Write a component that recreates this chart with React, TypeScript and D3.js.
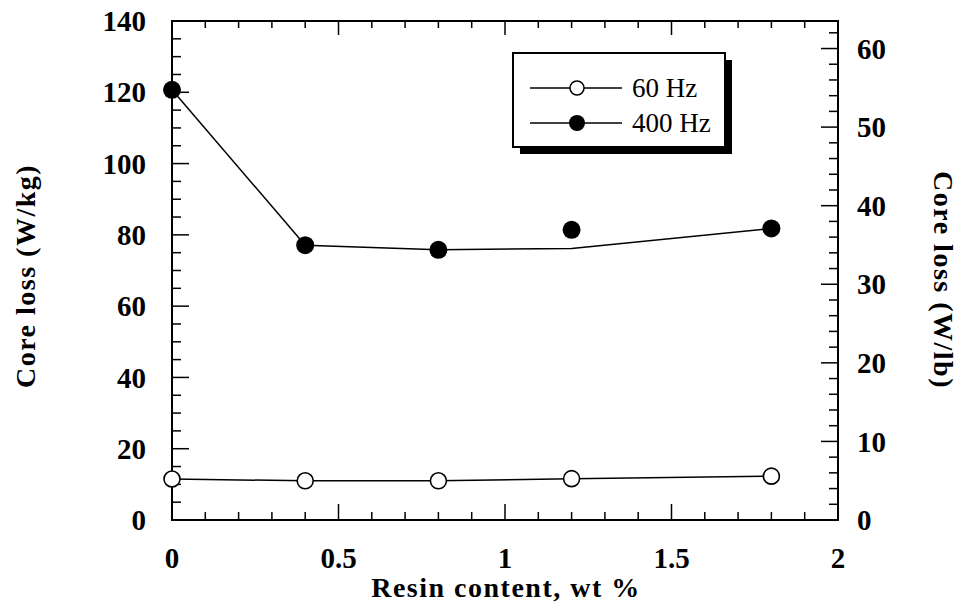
import * as d3 from 'd3';

// resin content (wt %)
const resin = [0, 0.4, 0.8, 1.2, 1.8];
// measured points (W/kg)
const loss60 = [11.5, 11.0, 11.0, 11.6, 12.3];
const loss400 = [120.7, 77.1, 75.8, 81.4, 81.8];
// drawn curves (W/kg)
const curve60 = [11.5, 11.0, 11.0, 11.6, 12.3];
const curve400 = [120.7, 77.1, 75.8, 76.2, 81.8];

const xTicks = [0, 0.5, 1, 1.5, 2];
const yTicks = [0, 20, 40, 60, 80, 100, 120, 140];
const y2Ticks = [0, 10, 20, 30, 40, 50, 60];
const KG_PER_LB = 2.2046;

const W = 966, H = 604;
const m = { left: 172, right: 838, top: 21, bottom: 520 };
const font = '"Liberation Serif", "Times New Roman", serif';

const App = () => {
  const x = d3.scaleLinear().domain([0, 2]).range([m.left, m.right]);
  const y = d3.scaleLinear().domain([0, 140]).range([m.bottom, m.top]);
  const y2 = d3.scaleLinear().domain([0, 140 / KG_PER_LB]).range([m.bottom, m.top]);

  const line = d3.line<number>().x((_, i) => x(resin[i])).y(d => y(d));

  const xMinor = d3.range(0, 2.0001, 0.1);
  const yMinor = d3.range(0, 140.001, 5);
  const y2Minor = d3.range(0, 62.001, 2);

  const tickStyle = { stroke: '#000', strokeWidth: 1.5 };
  const lblStyle = { fontFamily: font, fontWeight: 700, fontSize: 29 } as const;
  const titleStyle = { fontFamily: font, fontWeight: 700, fontSize: 28, letterSpacing: 1.5 } as const;

  return (
    <svg width={W} height={H} style={{ position: 'absolute', left: 0, top: 0, background: '#fff' }}>
      <rect x={0} y={0} width={W} height={H} fill="#fff" />
      {/* ticks bottom / top */}
      {xMinor.map((v, i) => {
        const major = Math.abs(v * 2 - Math.round(v * 2)) < 1e-6;
        return (
          <g key={'xt' + i}>
            <line x1={x(v)} x2={x(v)} y1={m.bottom} y2={m.bottom - (major ? 16 : 8)} {...tickStyle} />
            <line x1={x(v)} x2={x(v)} y1={m.top} y2={m.top + (major ? 14 : 7)} {...tickStyle} />
          </g>
        );
      })}
      {yMinor.map((v, i) => (
        <line key={'yt' + i} x1={m.left} x2={m.left + (v % 20 === 0 ? 17 : 9)} y1={y(v)} y2={y(v)} {...tickStyle} />
      ))}
      {y2Minor.map((v, i) => (
        <line key={'y2t' + i} x1={m.right} x2={m.right - (v % 10 === 0 ? 17 : 9)} y1={y2(v)} y2={y2(v)} {...tickStyle} />
      ))}
      {/* frame */}
      <rect x={m.left} y={m.top} width={m.right - m.left} height={m.bottom - m.top} fill="none" stroke="#000" strokeWidth={2} />

      {/* tick labels */}
      {xTicks.map(v => (
        <text key={'xl' + v} x={x(v)} y={568} textAnchor="middle" {...lblStyle}>{v}</text>
      ))}
      {yTicks.map(v => (
        <text key={'yl' + v} x={146} y={y(v)} dy="0.35em" textAnchor="end" {...lblStyle}>{v}</text>
      ))}
      {y2Ticks.map(v => (
        <text key={'y2l' + v} x={857} y={y2(v)} dy="0.35em" textAnchor="start" {...lblStyle}>{v}</text>
      ))}

      {/* axis titles */}
      <text x={506} y={597} textAnchor="middle" {...titleStyle}>Resin content, wt %</text>
      <text transform="translate(35,276) rotate(-90)" textAnchor="middle" {...titleStyle}>Core loss (W/kg)</text>
      <text transform="translate(934,280) rotate(90)" textAnchor="middle" {...titleStyle}>Core loss (W/lb)</text>

      {/* curves */}
      <path d={line(curve60) || ''} fill="none" stroke="#000" strokeWidth={1.5} />
      <path d={line(curve400) || ''} fill="none" stroke="#000" strokeWidth={1.5} />
      {loss60.map((v, i) => (
        <circle key={'p60' + i} cx={x(resin[i])} cy={y(v)} r={8} fill="#fff" stroke="#000" strokeWidth={1.6} />
      ))}
      {loss400.map((v, i) => (
        <circle key={'p400' + i} cx={x(resin[i])} cy={y(v)} r={9} fill="#000" />
      ))}

      {/* legend */}
      <g>
        <rect x={520} y={60} width={212} height={94} fill="#000" />
        <rect x={513} y={53} width={212} height={94} fill="#fff" stroke="#000" strokeWidth={2} />
        <line x1={530} x2={622} y1={88} y2={88} stroke="#000" strokeWidth={1.5} />
        <circle cx={577} cy={88} r={7} fill="#fff" stroke="#000" strokeWidth={1.5} />
        <text x={632} y={88} dy="0.35em" fontFamily={font} fontSize={27}>60 Hz</text>
        <line x1={530} x2={622} y1={123} y2={123} stroke="#000" strokeWidth={1.5} />
        <circle cx={577} cy={123} r={8} fill="#000" />
        <text x={632} y={123} dy="0.35em" fontFamily={font} fontSize={27}>400 Hz</text>
      </g>
    </svg>
  );
};

export default App;
